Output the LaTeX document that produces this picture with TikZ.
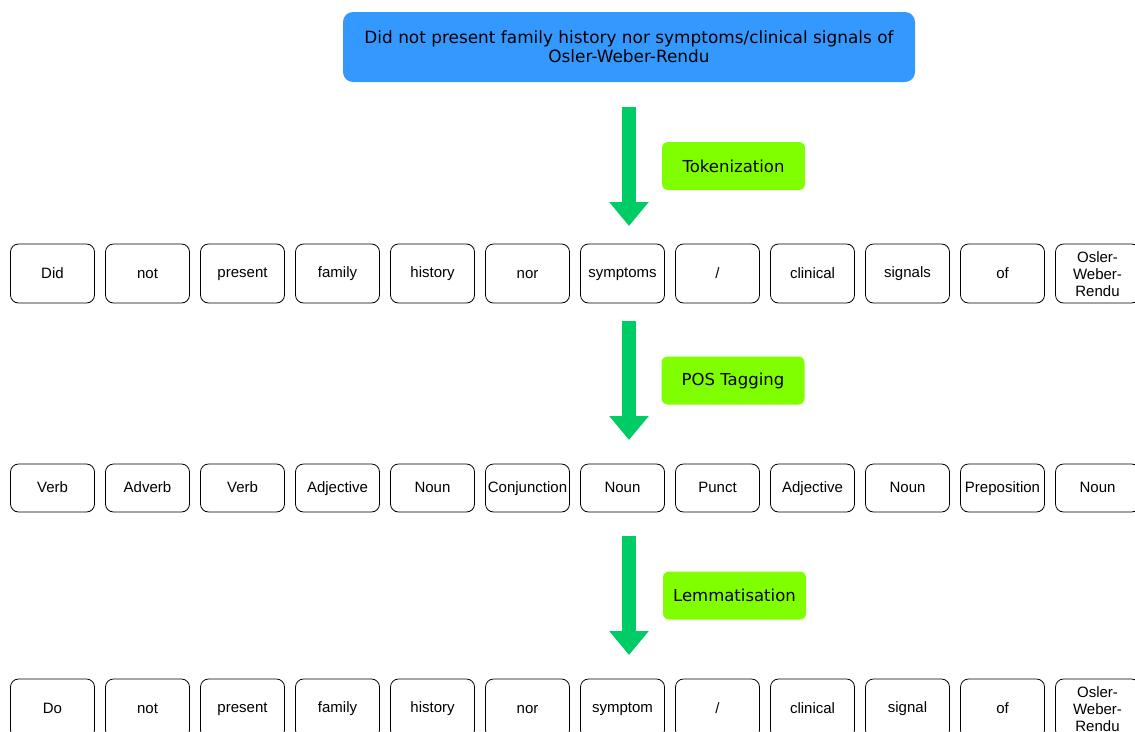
\documentclass[tikz,border=0pt]{standalone}
\usepackage{fontspec}
\setmainfont{Liberation Sans}
\newfontfamily\verdanafont{DejaVu Sans}
\usetikzlibrary{arrows.meta,positioning}
\definecolor{sentblue}{RGB}{51,153,255}
\definecolor{flowgreen}{RGB}{0,204,102}
\definecolor{stagelime}{RGB}{128,255,0}
\newcommand{\wordstrut}{\rule[-2pt]{0pt}{13.8pt}}

\begin{document}
\begin{tikzpicture}[x=1pt, y=-1pt, node distance=11pt,
  word/.style={draw=black, line width=0.8pt, rounded corners=8pt, outer sep=0pt, minimum width=84pt, minimum height=59pt, inner sep=1pt, align=center, font=\fontsize{15}{17}\selectfont},
  tag/.style={word, minimum height=48pt},
  sentence/.style={fill=sentblue, rounded corners=10pt, minimum width=572pt, minimum height=70pt, align=center, font=\verdanafont\fontsize{16.9}{19}\selectfont},
  stage/.style={fill=stagelime, rounded corners=6pt, minimum width=143pt, minimum height=48pt, font=\verdanafont\fontsize{16.5}{18}\selectfont},
  flow/.style={draw=flowgreen, line width=14pt, -{Triangle[width=38pt,length=24pt]}}]
\useasboundingbox (0,0) rectangle (1135,731);
\node[sentence] (sent) at (629,47) {Did not present family history nor symptoms/clinical signals of\\Osler-Weber-Rendu};
% tokens
\node[word] (tok1) at (52.5,273.5) {\wordstrut Did};
\foreach \t [count=\i from 2, remember=\i as \j (initially 1)] in {not,present,family,history,nor,symptoms,/,clinical,signals,of,{Osler-\\Weber-\\Rendu}}
  \node[word, right=of tok\j] (tok\i) {\wordstrut\t};
% tags
\node[tag] (pos1) at (52.5,488) {\wordstrut Verb};
\foreach \t [count=\i from 2, remember=\i as \j (initially 1)] in {Adverb,Verb,Adjective,Noun,Conjunction,Noun,Punct,Adjective,Noun,Preposition,Noun}
  \node[tag, right=of pos\j] (pos\i) {\wordstrut\t};
% lemmas
\node[word] (lem1) at (52.5,708.5) {\wordstrut Do};
\foreach \t [count=\i from 2, remember=\i as \j (initially 1)] in {not,present,family,history,nor,symptom,/,clinical,signal,of,{Osler-\\Weber-\\Rendu}}
  \node[word, right=of lem\j] (lem\i) {\wordstrut\t};
% stages
\node[stage] (tokenize) at (733.5,166) {Tokenization};
\node[stage] (postag) at (733,380.5) {POS Tagging};
\node[stage] (lemma) at (734.5,595.5) {Lemmatisation};
\coordinate (a1) at (629,107); \coordinate (b1) at (629,226);
\coordinate (a2) at (629,321); \coordinate (b2) at (629,440);
\coordinate (a3) at (629,536); \coordinate (b3) at (629,655);
\draw[flow] (a1) -- (b1);
\draw[flow] (a2) -- (b2);
\draw[flow] (a3) -- (b3);
\end{tikzpicture}
\end{document}
